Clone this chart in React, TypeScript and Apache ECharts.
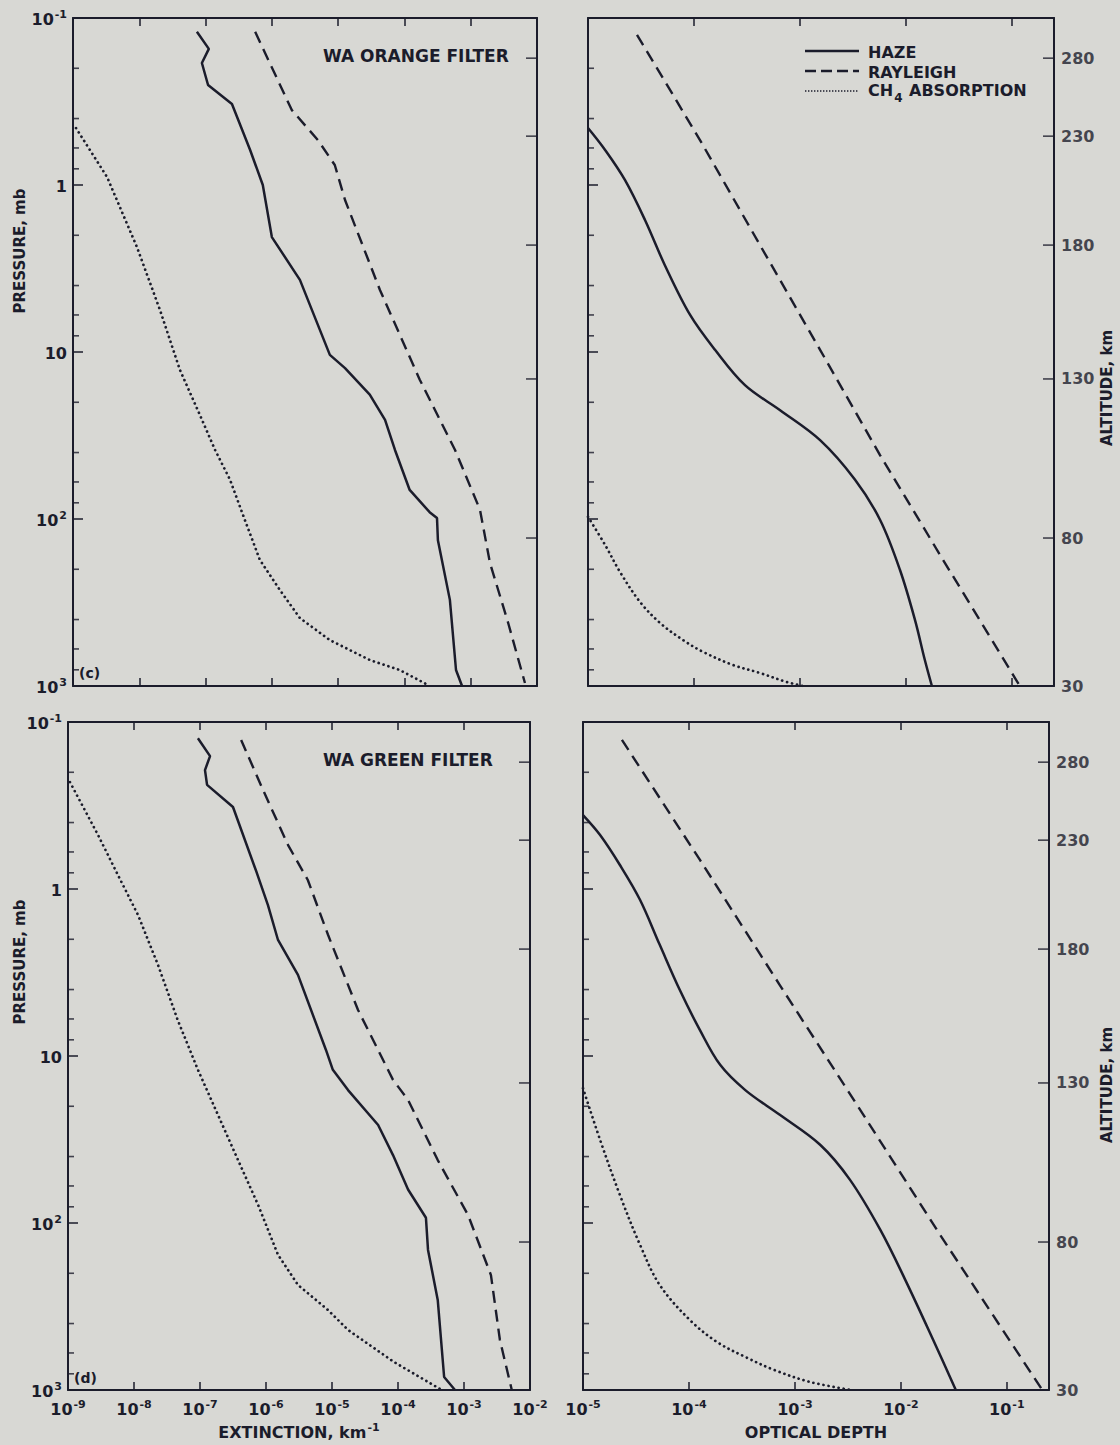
import React, { useEffect, useRef } from 'react';
import * as echarts from 'echarts';

const INK = '#1b1c2b';
const FONT = '"DejaVu Sans", "Liberation Sans", sans-serif';
const BG = '#d8d8d4';

const PRESSURE_MIN = 0.1;
const PRESSURE_MAX = 1000;
const EXT_MIN = 1e-9;
const EXT_MAX = 1e-2;
const OD_MIN = 1e-5;
const OD_MAX = 0.25;

const MINOR_PRESSURE_TICKS = [0.2, 0.4, 0.6, 0.8, 2, 4, 6, 8, 20, 40, 60, 80, 200, 400, 600, 800];
const ALTITUDE_LABELS = [280, 230, 180, 130, 80, 30];
const ALTITUDE_PRESSURE = [0.174, 0.51, 2.29, 14.5, 130, 1000];

// WA orange filter — extinction (km^-1) vs pressure (mb)
const ORANGE_EXT_HAZE: [number, number][] = [
  [7.4e-8, 0.121], [1.12e-7, 0.153], [8.8e-8, 0.186], [1.09e-7, 0.252], [2.5e-7, 0.327],
  [4.7e-7, 0.617], [7.3e-7, 1.0], [1.0e-6, 2.05], [2.65e-6, 3.7], [7.5e-6, 10.4],
  [1.27e-5, 12.5], [3.0e-5, 18], [5.1e-5, 25.5], [7.2e-5, 38.6], [1.2e-4, 67],
  [2.4e-4, 91], [3.1e-4, 98.6], [3.2e-4, 134], [4.85e-4, 305], [6.0e-4, 802], [7.4e-4, 1000],
];
const ORANGE_EXT_RAYLEIGH: [number, number][] = [
  [5.6e-7, 0.121], [2.0e-6, 0.356], [4.95e-6, 0.538], [8.9e-6, 0.759], [1.27e-5, 1.23],
  [4.27e-5, 4.25], [1.71e-4, 14.7], [5.8e-4, 38.6], [1.38e-3, 88], [1.95e-3, 183],
  [3.64e-3, 414], [6.58e-3, 960],
];
const ORANGE_EXT_CH4: [number, number][] = [
  [1.11e-9, 0.456], [3.26e-9, 0.895], [9.2e-9, 2.35], [2.05e-8, 5.6], [4.1e-8, 12.8],
  [8.2e-8, 23.8], [1.39e-7, 38.6], [2.33e-7, 58], [3.9e-7, 101], [6.6e-7, 176],
  [1.32e-6, 266], [2.65e-6, 392], [7.5e-6, 531], [3.0e-5, 699], [8.5e-5, 802], [2.26e-4, 986],
];

// WA orange filter — optical depth vs pressure
const ORANGE_OD_HAZE: [number, number][] = [
  [1e-5, 0.456], [1.45e-5, 0.617], [2.23e-5, 0.933], [3.45e-5, 1.62], [5.3e-5, 3.01],
  [9.2e-5, 6.0], [1.58e-4, 9.7], [3.03e-4, 15.8], [6.5e-4, 22.3], [1.55e-3, 33.7],
  [3.3e-3, 58], [5.7e-3, 101], [8.8e-3, 202], [1.22e-2, 403], [1.51e-2, 699], [1.76e-2, 1000],
];
const ORANGE_OD_RAYLEIGH: [number, number][] = [
  [2.9e-5, 0.126], [1.14e-4, 0.538], [4.2e-4, 2.29], [1.55e-3, 9.7], [5.7e-3, 41.4],
  [2.1e-2, 164], [0.119, 1000],
];
const ORANGE_OD_CH4: [number, number][] = [
  [1e-5, 97], [1.45e-5, 143], [2.0e-5, 207], [3.1e-5, 314], [4.8e-5, 420], [7.9e-5, 531],
  [1.22e-4, 625], [2.33e-4, 748], [4.2e-4, 836], [7.5e-4, 946], [1.07e-3, 1000],
];

// WA green filter — extinction vs pressure
const GREEN_EXT_HAZE: [number, number][] = [
  [9.3e-8, 0.125], [1.42e-7, 0.16], [1.19e-7, 0.194], [1.28e-7, 0.238], [3.16e-7, 0.323],
  [7.0e-7, 0.769], [1.07e-6, 1.25], [1.52e-6, 2.02], [3.05e-6, 3.27], [8.1e-6, 9.2],
  [1.03e-5, 12.1], [1.75e-5, 16], [5.0e-5, 25.9], [8.4e-5, 39.2], [1.42e-4, 63],
  [2.0e-4, 78], [2.65e-4, 93], [2.85e-4, 145], [4.0e-4, 289], [5.0e-4, 836], [7.3e-4, 1000],
];
const GREEN_EXT_RAYLEIGH: [number, number][] = [
  [4.2e-7, 0.128], [9.0e-7, 0.255], [2.16e-6, 0.546], [4.3e-6, 0.883], [8.7e-6, 1.88],
  [2.48e-5, 5.3], [8.4e-5, 13.9], [1.42e-4, 18.3], [4.0e-4, 42], [1.15e-3, 89.5],
  [2.56e-3, 205], [3.5e-3, 502], [5.3e-3, 1000],
];
const GREEN_EXT_CH4: [number, number][] = [
  [1.07e-9, 0.229], [2.85e-9, 0.475], [5.7e-9, 0.824], [1.15e-8, 1.43], [2.31e-8, 2.85],
  [4.6e-8, 6.1], [9.3e-8, 12.1], [1.87e-7, 22.5], [3.77e-7, 42], [7.6e-7, 78],
  [1.52e-6, 155], [3.05e-6, 235], [8.7e-6, 332], [1.75e-5, 437], [8.7e-5, 680], [4.6e-4, 1000],
];

// WA green filter — optical depth vs pressure
const GREEN_OD_HAZE: [number, number][] = [
  [1e-5, 0.361], [1.45e-5, 0.475], [2.23e-5, 0.718], [3.45e-5, 1.16], [5.3e-5, 2.16],
  [8.2e-5, 4.03], [1.27e-4, 7.0], [1.97e-4, 11.3], [3.4e-4, 16], [7.2e-4, 22.5],
  [1.73e-3, 34], [3.3e-3, 55], [6.4e-3, 110], [1.1e-2, 219], [2.02e-2, 502], [3.3e-2, 1000],
];
const GREEN_OD_RAYLEIGH: [number, number][] = [
  [2.33e-5, 0.128], [1.27e-4, 0.67], [7.2e-4, 3.76], [4.13e-3, 21], [2.35e-2, 118], [0.216, 1000],
];
const GREEN_OD_CH4: [number, number][] = [
  [1e-5, 15.6], [1.45e-5, 31.8], [2.23e-5, 68], [3.45e-5, 135], [5.3e-5, 235], [1.02e-4, 381],
  [1.84e-4, 516], [3.4e-4, 634], [6.4e-4, 759], [1.39e-3, 895], [3.4e-3, 1000],
];

const RICH = {
  b: { fontSize: 16, fontFamily: FONT, fontWeight: 'bold', color: INK, lineHeight: 20, padding: [3, 0, 0, 0], verticalAlign: 'top' },
  s: { fontSize: 11, fontFamily: FONT, fontWeight: 'bold', color: INK, lineHeight: 13, padding: [1, 0, 0, 1], verticalAlign: 'top' },
  n: { fontSize: 16, fontFamily: FONT, fontWeight: 'bold', color: INK, lineHeight: 20, padding: [3, 0, 0, 0], verticalAlign: 'top' },
};

function powLabel(v: number): string {
  const e = Math.log10(v);
  const r = Math.round(e);
  if (Math.abs(e - r) > 1e-6) return '';
  if (r === 0) return '{b|1}';
  if (r === 1) return '{b|10}';
  return '{b|10}{s|' + r + '}';
}

type Panel = {
  left: number; top: number; width: number; height: number;
  xMin: number; xMax: number; smooth: number;
  haze: [number, number][]; rayleigh: [number, number][]; ch4: [number, number][];
  yLabels: boolean; xLabels: boolean; altLabels: boolean; xName?: string;
};

const PANELS: Panel[] = [
  { left: 73, top: 18, width: 464, height: 668, xMin: EXT_MIN, xMax: EXT_MAX, smooth: 0,
    haze: ORANGE_EXT_HAZE, rayleigh: ORANGE_EXT_RAYLEIGH, ch4: ORANGE_EXT_CH4,
    yLabels: true, xLabels: false, altLabels: false },
  { left: 588, top: 18, width: 466, height: 668, xMin: OD_MIN, xMax: OD_MAX, smooth: 0.35,
    haze: ORANGE_OD_HAZE, rayleigh: ORANGE_OD_RAYLEIGH, ch4: ORANGE_OD_CH4,
    yLabels: false, xLabels: false, altLabels: true },
  { left: 68, top: 722, width: 462, height: 668, xMin: EXT_MIN, xMax: EXT_MAX, smooth: 0,
    haze: GREEN_EXT_HAZE, rayleigh: GREEN_EXT_RAYLEIGH, ch4: GREEN_EXT_CH4,
    yLabels: true, xLabels: true, altLabels: false, xName: '{n|EXTINCTION, km}{s|-1}' },
  { left: 583, top: 722, width: 466, height: 668, xMin: OD_MIN, xMax: OD_MAX, smooth: 0.35,
    haze: GREEN_OD_HAZE, rayleigh: GREEN_OD_RAYLEIGH, ch4: GREEN_OD_CH4,
    yLabels: false, xLabels: true, altLabels: true, xName: '{n|OPTICAL DEPTH}' },
];

function buildOption() {
  const grid: any[] = [];
  const xAxis: any[] = [];
  const yAxis: any[] = [];
  const series: any[] = [];
  const axisLine = { show: true, onZero: false, lineStyle: { color: INK, width: 2 } };

  PANELS.forEach((p, g) => {
    grid.push({ left: p.left, top: p.top, width: p.width, height: p.height, containLabel: false });
    const xBase = {
      gridIndex: g, type: 'log', logBase: 10, min: p.xMin, max: p.xMax,
      axisLine, splitLine: { show: false },
      axisTick: { show: true, inside: true, length: 8, lineStyle: { color: INK, width: 1.5 } },
    };
    xAxis.push({
      ...xBase, position: 'bottom',
      axisLabel: { show: p.xLabels, formatter: powLabel, rich: RICH, margin: 8 },
      name: p.xName || '', nameLocation: 'middle', nameGap: 31,
      nameTextStyle: { rich: RICH },
    });
    xAxis.push({ ...xBase, position: 'top', axisLabel: { show: false } });
    const yBase = {
      gridIndex: g, type: 'log', logBase: 10, min: PRESSURE_MIN, max: PRESSURE_MAX, inverse: true,
      axisLine, splitLine: { show: false },
    };
    yAxis.push({
      ...yBase, position: 'left',
      axisTick: { show: true, inside: true, length: 10, lineStyle: { color: INK, width: 1.5 } },
      axisLabel: { show: p.yLabels, formatter: powLabel, rich: RICH, margin: 6 },
    });
    yAxis.push({ ...yBase, position: 'right', axisTick: { show: false }, axisLabel: { show: false } });

    const xi = 2 * g;
    const yi = 2 * g;
    series.push({
      type: 'line', xAxisIndex: xi, yAxisIndex: yi, data: p.haze, symbol: 'none', silent: true, z: 4,
      smooth: p.smooth, lineStyle: { color: INK, width: 2.5 },
    });
    series.push({
      type: 'line', xAxisIndex: xi, yAxisIndex: yi, data: p.rayleigh, symbol: 'none', silent: true, z: 4,
      lineStyle: { color: INK, width: 2.4, type: [12, 7] },
    });
    series.push({
      type: 'line', xAxisIndex: xi, yAxisIndex: yi, data: p.ch4, symbol: 'none', silent: true, z: 4,
      smooth: p.smooth, lineStyle: { color: INK, width: 2.7, type: [0.1, 5], cap: 'round' },
    });
    // minor pressure ticks on the left axis
    series.push({
      type: 'scatter', xAxisIndex: xi, yAxisIndex: yi, silent: true, clip: false, z: 5,
      symbol: 'rect', symbolSize: [6, 1.6], symbolOffset: [3, 0],
      itemStyle: { color: INK },
      data: MINOR_PRESSURE_TICKS.map((v) => [p.xMin, v]),
    });
    // altitude ticks on the right axis
    series.push({
      type: 'scatter', xAxisIndex: xi, yAxisIndex: yi, silent: true, clip: false, z: 5,
      symbol: 'rect', symbolSize: [11, 1.6], symbolOffset: [-5.5, 0],
      itemStyle: { color: INK },
      data: ALTITUDE_PRESSURE.slice(0, 5).map((v) => [p.xMax, v]),
    });
    if (p.altLabels) {
      series.push({
        type: 'scatter', xAxisIndex: xi, yAxisIndex: yi, silent: true, clip: false, z: 5,
        symbol: 'circle', symbolSize: 2, itemStyle: { color: 'rgba(0,0,0,0)' },
        label: {
          show: true, position: 'right', distance: 6,
          formatter: (prm: any) => String(ALTITUDE_LABELS[prm.dataIndex]),
          fontSize: 16, fontFamily: FONT, fontWeight: 'bold', color: INK,
        },
        data: ALTITUDE_PRESSURE.map((v) => [p.xMax, v]),
      });
    }
  });

  const txt = (x: number, y: number, text: string, size: number, extra: any = {}) => ({
    type: 'text', x, y, silent: true, z: 10, ...extra,
    style: {
      text, fill: INK, fontSize: size, fontFamily: FONT, fontWeight: 'bold',
      align: 'left', verticalAlign: 'middle', ...(extra.style || {}),
    },
  });

  const graphic: any[] = [
    txt(323, 56, 'WA ORANGE FILTER', 17),
    txt(323, 760, 'WA GREEN FILTER', 17),
    txt(79, 673, '(c)', 14),
    txt(74, 1378, '(d)', 14),
    txt(20, 251, 'PRESSURE, mb', 15, { rotation: Math.PI / 2, style: { align: 'center' } }),
    txt(20, 962, 'PRESSURE, mb', 15, { rotation: Math.PI / 2, style: { align: 'center' } }),
    txt(1107, 388, 'ALTITUDE, km', 15, { rotation: Math.PI / 2, style: { align: 'center' } }),
    txt(1107, 1085, 'ALTITUDE, km', 15, { rotation: Math.PI / 2, style: { align: 'center' } }),
    { type: 'line', silent: true, z: 10, shape: { x1: 805, y1: 51, x2: 859, y2: 51 }, style: { stroke: INK, lineWidth: 2.4 } },
    { type: 'line', silent: true, z: 10, shape: { x1: 805, y1: 71, x2: 859, y2: 71 }, style: { stroke: INK, lineWidth: 2.4, lineDash: [11, 5] } },
    { type: 'line', silent: true, z: 10, shape: { x1: 805, y1: 91, x2: 859, y2: 91 }, style: { stroke: INK, lineWidth: 1.4, lineDash: [1.4, 1.6] } },
    txt(868, 52, 'HAZE', 16),
    txt(868, 72, 'RAYLEIGH', 16),
    {
      type: 'text', x: 868, y: 92, silent: true, z: 10,
      style: {
        text: '{a|CH}{c|4}{a| ABSORPTION}', verticalAlign: 'middle', align: 'left',
        rich: {
          a: { fontSize: 16, fontFamily: FONT, fontWeight: 'bold', fill: INK, color: INK, lineHeight: 19, verticalAlign: 'top' },
          c: { fontSize: 12, fontFamily: FONT, fontWeight: 'bold', fill: INK, color: INK, lineHeight: 13, padding: [9, 1, 0, 1], verticalAlign: 'top' },
        },
      },
    },
  ];

  return { animation: false, backgroundColor: BG, grid, xAxis, yAxis, series, graphic };
}

export default function App() {
  const ref = useRef<HTMLDivElement>(null);
  useEffect(() => {
    if (!ref.current) return;
    const chart = echarts.init(ref.current, undefined, { renderer: 'svg' });
    chart.setOption(buildOption() as any);
    return () => chart.dispose();
  }, []);
  return (
    <div
      ref={ref}
      style={{ position: 'absolute', left: 0, top: 0, width: 1120, height: 1445, background: BG }}
    />
  );
}
